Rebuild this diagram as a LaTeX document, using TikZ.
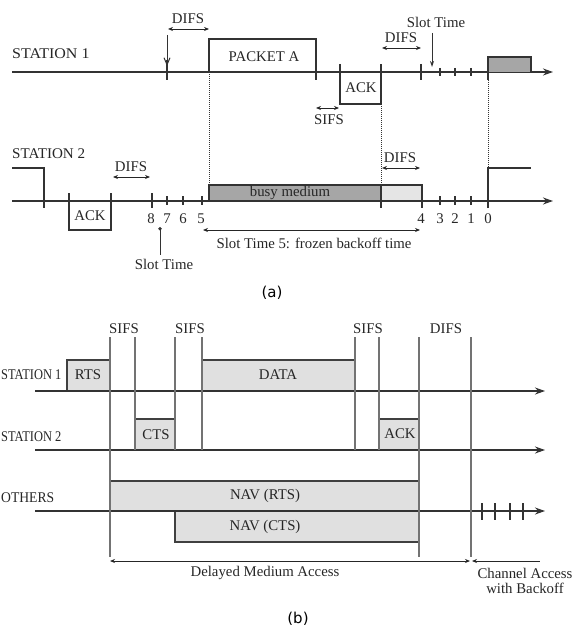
\documentclass[tikz,border=0pt]{standalone}
\usepackage{fontspec}
\setmainfont{Liberation Serif}
\newfontfamily\capfont{DejaVu Sans}
\usetikzlibrary{arrows.meta}
\begin{document}
\begin{tikzpicture}[x=1pt,y=-1pt,
  lbl/.style={font=\fontsize{14.8}{16}\selectfont, inner sep=0pt, text=black!85},
  axis/.style={line width=1.3pt, draw=black!80, -{Stealth[length=10pt,width=7pt]}},
  dim/.style={line width=0.8pt, draw=black!85, {Stealth[length=5pt,width=4pt]}-{Stealth[length=5pt,width=4pt]}},
  dotl/.style={densely dotted, line width=1pt, draw=black!80},
  edge/.style={line width=1.2pt, draw=black!80},
  tick/.style={line width=1.1pt, draw=black!80},
  vbar/.style={line width=2pt, draw=black!55},
  lbox/.style={fill=black!12, draw=black!75, line width=1.2pt},
  captxt/.style={font=\capfont\fontsize{15}{17}\selectfont, inner sep=0pt}]
\useasboundingbox (0,0) rectangle (573,631);
\clip (0,0) rectangle (573,631);

% ================= (a) =================
% station 1
\draw[axis] (12,72) -- (553,72);
\node[lbl, anchor=west] (s1) at (12,54) {\scalebox{1.08}[1]{STATION 1}};
\draw[line width=1pt, draw=black!80, -{Straight Barb[length=7pt,width=6pt]}] (167,35) -- (167,66);
\draw[tick] (167,60) -- (167,80);
\draw[dim] (168,29) -- (209,29);
\node[lbl] (difsa1) at (188,19) {DIFS};
\draw[edge] (209,72) -- (209,39) -- (316,39) -- (316,80);
\node[lbl] (pkta) at (264,57) {PACKET A};
\draw[edge] (340,64) -- (340,104) -- (381,104) -- (381,64);
\node[lbl] (acka1) at (361,88) {ACK};
\draw[dim] (316,108) -- (339,108);
\node[lbl] (sifsa) at (329,120) {SIFS};
\draw[dim] (382,48) -- (421,48);
\node[lbl] (difsa2) at (401,38) {DIFS};
\draw[tick] (421,64) -- (421,80);
\foreach \x in {440,455,471} \draw[tick] (\x,68) -- (\x,76);
\draw[line width=1pt, draw=black!80, -{Stealth[length=6pt,width=4pt]}] (432,33) -- (432,67);
\node[lbl] (slota1) at (436,22) {Slot Time};
\draw[edge, fill=black!35] (488,72) -- (488,57) -- (531,57) -- (531,72);
\draw[tick] (488,72) -- (488,80);
% dotted guides
\draw[dotl] (209,72) -- (209,185);
\draw[dotl] (381,104) -- (381,185);
\draw[dotl] (488,80) -- (488,168);

% station 2
\draw[axis] (12,201) -- (553,201);
\node[lbl, anchor=west] (s2) at (12,154) {\scalebox{1.02}[1]{STATION 2}};
\draw[edge] (12,168) -- (44,168) -- (44,208);
\draw[edge] (69,193) -- (69,230) -- (111,230) -- (111,193);
\node[lbl] (acka2) at (90,216) {ACK};
\draw[dim] (113,177) -- (150,177);
\node[lbl] (difsa3) at (131,167) {DIFS};
\draw[tick] (152,193) -- (152,208);
\foreach \x in {167,183,202} \draw[tick] (\x,196) -- (\x,205);
\foreach \x/\n in {151/8,167/7,183/6,201/5,421/4,440/3,455/2,471/1,488/0}
  \node[lbl] at (\x,219) {\n};
\draw[line width=1pt, draw=black!80, {Circle[length=3.5pt]}-] (160,227) -- (160,255);
\node[lbl] (slota2) at (164,264) {Slot Time};
\draw[edge, fill=black!35] (209,201) rectangle (381,185);
\draw[edge, fill=black!10] (381,185) rectangle (422,201);
\draw[tick] (381,185) -- (381,208);
\draw[tick] (422,185) -- (422,208);
\node[lbl] (busy) at (290,193) {busy medium};
\draw[dim] (382,168) -- (420,168);
\node[lbl] (difsa4) at (400,158) {DIFS};
\foreach \x in {440,455,471} \draw[tick] (\x,196) -- (\x,205);
\draw[edge] (488,208) -- (488,168) -- (531,168);
\draw[dim] (203,230) -- (420,230);
\node[lbl] (frozen) at (314,243) {Slot Time 5: frozen backoff time};
\node[captxt] (capa) at (272,293) {(a)};

% ================= (b) =================
% boxes
\draw[lbox] (67,391) rectangle (110,360);
\draw[lbox] (135,450) rectangle (175,419);
\draw[lbox] (202,391) rectangle (355,360);
\draw[lbox] (379,450) rectangle (419,419);
\draw[lbox] (110,511) rectangle (419,481);
\draw[lbox] (175,511) rectangle (419,542);
\node[lbl] (rts) at (88,375) {RTS};
\node[lbl] (cts) at (156,435) {CTS};
\node[lbl] (data) at (278,375) {DATA};
\node[lbl] (ackb) at (400,434) {ACK};
\node[lbl] (navr) at (265,496) {NAV (RTS)};
\node[lbl] (navc) at (265,527) {NAV (CTS)};
% time lines
\draw[axis, line width=1.1pt] (35,391) -- (545,391);
\draw[axis, line width=1.1pt] (35,450) -- (545,450);
\draw[axis, line width=1.1pt] (35,511) -- (545,511);
\node[lbl, anchor=west] (st1b) at (1,375) {\scalebox{0.84}[1]{STATION 1}};
\node[lbl, anchor=west] (st2b) at (1,437) {\scalebox{0.84}[1]{STATION 2}};
\node[lbl, anchor=west] (oth) at (1,498) {\scalebox{0.92}[1]{OTHERS}};
\foreach \x in {482,495,510,523} \draw[tick] (\x,503) -- (\x,520);
% vertical bars
\draw[vbar] (110,337) -- (110,557);
\foreach \x in {135,175,202,355,379} \draw[vbar] (\x,337) -- (\x,450);
\draw[vbar] (419,337) -- (419,557);
\draw[vbar] (471,337) -- (471,557);
\node[lbl] (sifs1) at (124,329) {SIFS};
\node[lbl] (sifs2) at (190,329) {SIFS};
\node[lbl] (sifs3) at (368,329) {SIFS};
\node[lbl] (difsb) at (446,329) {DIFS};
% bottom arrows
\draw[dim] (110,561) -- (470,561);
\node[lbl] (delay) at (265,573) {Delayed Medium Access};
\draw[line width=0.8pt, draw=black!85, {Stealth[length=5pt,width=4pt]}-] (472,561) -- (540,561);
\node[lbl] (chan1) at (525,573) {Channel Access};
\node[lbl] (chan2) at (525,588) {with Backoff};
\node[captxt] (capb) at (298,619) {(b)};
\end{tikzpicture}
\end{document}
